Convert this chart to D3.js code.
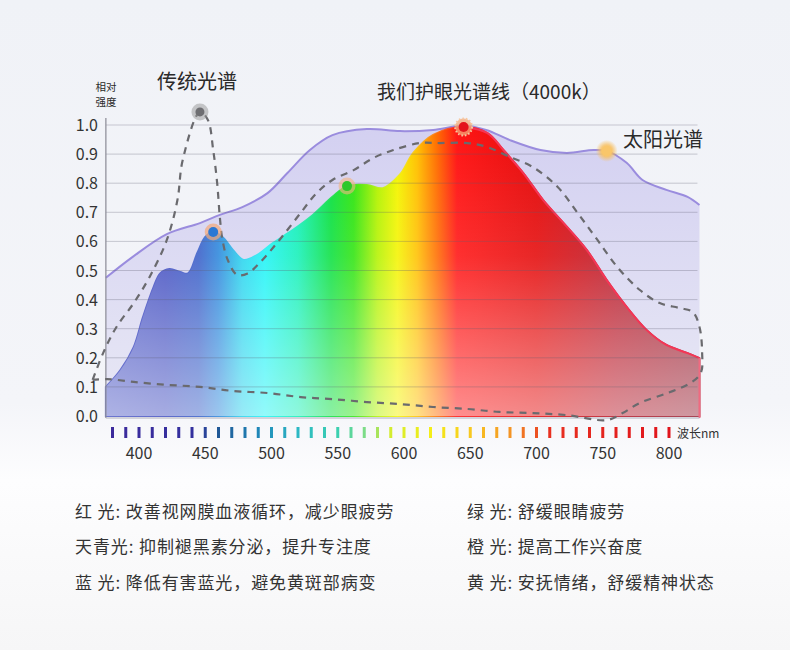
<!DOCTYPE html>
<html>
<head>
<meta charset="utf-8">
<script src="https://cdn.jsdelivr.net/npm/d3@7"></script>
<style>
  body { margin: 0; background: #f5f6f9; }
  svg { display: block; }
</style>
</head>
<body>
<svg id="chart" width="790" height="650"></svg>
<script>
// sunlight spectrum
const sunNm  = [375, 395, 421, 446, 461, 478, 497, 512, 529, 546, 572, 597, 622, 644, 662, 680, 703, 723, 743, 753, 768, 780, 798, 814, 823];
const sunVal = [0.475, 0.546, 0.625, 0.663, 0.691, 0.718, 0.766, 0.835, 0.914, 0.965, 0.986, 0.979, 0.983, 0.997, 0.983, 0.948, 0.914, 0.904, 0.914, 0.911, 0.870, 0.811, 0.777, 0.753, 0.725];

// eye-care LED spectrum (4000k)
const eyeNm  = [375, 386, 396, 403, 411, 416, 423, 431, 437, 444, 450, 456, 463, 471, 479, 489, 501, 516, 531, 546, 557, 572, 584, 597, 607, 622, 645, 663, 675, 690, 705, 723, 738, 753, 768, 783, 798, 814, 823];
const eyeVal = [0.10, 0.158, 0.237, 0.34, 0.443, 0.49, 0.505, 0.495, 0.49, 0.56, 0.615, 0.632, 0.615, 0.57, 0.536, 0.553, 0.594, 0.639, 0.69, 0.753, 0.79, 0.794, 0.783, 0.83, 0.904, 0.966, 0.993, 0.972, 0.914, 0.835, 0.742, 0.65, 0.57, 0.467, 0.375, 0.296, 0.244, 0.216, 0.199];

// traditional spectrum, drawn as a loop (upper edge then back along the bottom)
const tradNm  = [365, 373, 383, 396, 408, 421, 429, 433, 446, 452, 456, 459, 461, 463, 467, 474, 482, 491, 506, 522, 534, 546, 562, 577, 592, 612, 627, 648, 663, 680, 697, 716, 731, 746, 761, 778, 793, 808, 818, 823, 825, 824, 816, 799, 778, 765, 753, 723, 697, 672, 648, 622, 597, 572, 546, 522, 497, 471, 446, 421, 396, 376, 365];
const tradVal = [0.124, 0.217, 0.306, 0.388, 0.478, 0.605, 0.742, 0.88, 1.045, 1.017, 0.914, 0.80, 0.684, 0.605, 0.536, 0.485, 0.49, 0.526, 0.605, 0.698, 0.766, 0.811, 0.845, 0.887, 0.914, 0.938, 0.938, 0.938, 0.924, 0.89, 0.856, 0.787, 0.698, 0.605, 0.512, 0.433, 0.388, 0.371, 0.357, 0.306, 0.217, 0.148, 0.113, 0.079, 0.045, 0.010, -0.014, 0.003, 0.010, 0.014, 0.024, 0.031, 0.041, 0.048, 0.058, 0.065, 0.079, 0.086, 0.10, 0.107, 0.117, 0.127, 0.124];

// highlighted points
const markers = [
  { nm: 446, v: 1.045, kind: 'trad' },
  { nm: 456, v: 0.632, kind: 'blue' },
  { nm: 557, v: 0.79,  kind: 'green' },
  { nm: 645, v: 0.993, kind: 'red' },
  { nm: 753, v: 0.911, kind: 'sun' }
];

const yTicks = [0, 0.1, 0.2, 0.3, 0.4, 0.5, 0.6, 0.7, 0.8, 0.9, 1.0];
const xTicks = [400, 450, 500, 550, 600, 650, 700, 750, 800];
const nmTicks = d3.range(380, 801, 10);

const legendLeft  = ['红 光: 改善视网膜血液循环，减少眼疲劳', '天青光: 抑制褪黑素分泌，提升专注度', '蓝 光: 降低有害蓝光，避免黄斑部病变'];
const legendRight = ['绿 光: 舒缓眼睛疲劳', '橙 光: 提高工作兴奋度', '黄 光: 安抚情绪，舒缓精神状态'];

const FONT = '"Noto Sans CJK SC", "Noto Sans", sans-serif';

const svg = d3.select('#chart');
const x = d3.scaleLinear().domain([400, 800]).range([139, 669]);
const y = d3.scaleLinear().domain([0, 1]).range([416, 125]);
const left = x(375), right = x(823);

const defs = svg.append('defs');

// page background
const bg = defs.append('linearGradient').attr('id', 'bg').attr('x1', 0).attr('y1', 0).attr('x2', 0).attr('y2', 1);
bg.append('stop').attr('offset', '0').attr('stop-color', '#f0f2f7');
bg.append('stop').attr('offset', '0.62').attr('stop-color', '#f4f5f9');
bg.append('stop').attr('offset', '0.74').attr('stop-color', '#fdfdfe');
bg.append('stop').attr('offset', '1').attr('stop-color', '#f6f6f7');
svg.append('rect').attr('width', 790).attr('height', 650).attr('fill', 'url(#bg)');

// sun fill
const sunGrad = defs.append('linearGradient').attr('id', 'sunGrad')
  .attr('gradientUnits', 'userSpaceOnUse').attr('x1', 0).attr('x2', 0).attr('y1', y(1)).attr('y2', y(0));
sunGrad.append('stop').attr('offset', '0').attr('stop-color', '#d3d0f1');
sunGrad.append('stop').attr('offset', '1').attr('stop-color', '#e8e8f5');

// rainbow for the eye-care curve
const spectrumStops = [
  [375, '#5660c8'], [420, '#4652c2'], [445, '#3a5fc8'], [460, '#2e88dc'], [478, '#28d4ee'],
  [495, '#1ef4f6'], [520, '#14f0b8'], [545, '#0ce040'], [562, '#30e410'], [580, '#b4f200'],
  [595, '#f4f400'], [610, '#ffc000'], [625, '#ff6c00'], [640, '#ff1414'], [700, '#e40a0a'],
  [760, '#b81a2a'], [823, '#98283a']
];
const rainbow = defs.append('linearGradient').attr('id', 'rainbow')
  .attr('gradientUnits', 'userSpaceOnUse').attr('x1', left).attr('x2', right).attr('y1', 0).attr('y2', 0);
rainbow.selectAll('stop').data(spectrumStops).enter().append('stop')
  .attr('offset', d => (d[0] - 375) / (823 - 375))
  .attr('stop-color', d => d[1]);

const fade = defs.append('linearGradient').attr('id', 'fade')
  .attr('gradientUnits', 'userSpaceOnUse').attr('x1', 0).attr('x2', 0).attr('y1', y(1)).attr('y2', y(0));
fade.append('stop').attr('offset', '0').attr('stop-color', '#fff').attr('stop-opacity', 0);
fade.append('stop').attr('offset', '0.45').attr('stop-color', '#fff').attr('stop-opacity', 0.12);
fade.append('stop').attr('offset', '1').attr('stop-color', '#fff').attr('stop-opacity', 0.52);

const glow = defs.append('radialGradient').attr('id', 'glow');
glow.append('stop').attr('offset', '0').attr('stop-color', '#ffd070').attr('stop-opacity', 1);
glow.append('stop').attr('offset', '0.55').attr('stop-color', '#f8c060').attr('stop-opacity', 0.8);
glow.append('stop').attr('offset', '1').attr('stop-color', '#f8c060').attr('stop-opacity', 0);

const curve = d3.curveCatmullRom.alpha(0.5);
const zip = (a, b) => a.map((d, i) => [d, b[i]]);

const area = d3.area().x(d => x(d[0])).y0(y(0)).y1(d => y(d[1])).curve(curve);
const line = d3.line().x(d => x(d[0])).y(d => y(d[1])).curve(curve);

// sun spectrum
svg.append('path').attr('d', area(zip(sunNm, sunVal))).attr('fill', 'url(#sunGrad)');
svg.append('path').attr('d', line(zip(sunNm, sunVal)))
  .attr('fill', 'none').attr('stroke', '#9a8cde').attr('stroke-width', 2);

// eye-care spectrum
const eyeData = zip(eyeNm, eyeVal);
svg.append('path').attr('d', area(eyeData)).attr('fill', 'url(#rainbow)')
  .attr('stroke', 'url(#rainbow)').attr('stroke-width', 2).attr('stroke-opacity', 0.85);
svg.append('path').attr('d', area(eyeData)).attr('fill', 'url(#fade)');
svg.append('path').attr('d', line(eyeData.filter(d => d[0] >= 640)))
  .attr('fill', 'none').attr('stroke', '#f43656').attr('stroke-width', 2);
svg.append('line').attr('x1', right).attr('x2', right).attr('y1', y(eyeVal[eyeVal.length - 1])).attr('y2', y(0) + 2)
  .attr('stroke', '#f06a80').attr('stroke-width', 2);

// grid
svg.append('g').selectAll('line').data(yTicks.slice(1)).enter().append('line')
  .attr('x1', left).attr('x2', right - 2)
  .attr('y1', d => y(d)).attr('y2', d => y(d))
  .attr('stroke', '#5c5c70').attr('stroke-opacity', 0.3).attr('stroke-width', 1);

// axes
svg.append('line').attr('x1', left).attr('x2', left).attr('y1', 118).attr('y2', y(0) + 2)
  .attr('stroke', '#8a8a96').attr('stroke-width', 1.2);
svg.append('line').attr('x1', left).attr('x2', right).attr('y1', y(0) + 2).attr('y2', y(0) + 2)
  .attr('stroke', '#b0b0bc').attr('stroke-width', 1);

svg.append('g').selectAll('text').data(yTicks).enter().append('text')
  .attr('x', 98).attr('y', d => y(d) + 6)
  .attr('text-anchor', 'end').attr('font-family', FONT).attr('font-size', 16).attr('fill', '#333')
  .text(d => d.toFixed(1));

svg.append('g').selectAll('text').data(xTicks).enter().append('text')
  .attr('x', d => x(d)).attr('y', 459)
  .attr('text-anchor', 'middle').attr('font-family', FONT).attr('font-size', 16).attr('fill', '#333')
  .text(d => d);

const tickColor = d3.scaleLinear()
  .domain([380, 440, 460, 490, 520, 550, 570, 590, 620, 650, 680, 710, 800])
  .range(['#3c2a9c', '#33309e', '#205896', '#1f86b8', '#2cb8c4', '#3cd0b0', '#7cdc88', '#d4ec30', '#f4ee18', '#f8c820', '#f49424', '#e83020', '#e0141c']);
svg.append('g').selectAll('rect').data(nmTicks).enter().append('rect')
  .attr('x', d => x(d) - 1.5).attr('y', 427).attr('width', 3).attr('height', 11)
  .attr('fill', d => tickColor(d));

svg.append('text').attr('x', 677).attr('y', 438)
  .attr('font-family', FONT).attr('font-size', 12).attr('fill', '#333').text('波长nm');

// traditional spectrum
svg.append('path').attr('d', line(zip(tradNm, tradVal)))
  .attr('fill', 'none').attr('stroke', '#6a6a6e').attr('stroke-width', 2.2)
  .attr('stroke-dasharray', '7,6');

// markers
const markerStyle = {
  trad:  { halo: 'rgba(150,150,150,0.5)', core: '#6e6e72', r: 4.5 },
  blue:  { halo: 'rgba(244,168,120,0.7)', core: '#2a78d4', r: 5 },
  green: { halo: 'rgba(244,180,130,0.6)', core: '#2ec82a', r: 5 },
  red:   { halo: 'rgba(244,168,120,0.75)', core: '#e4141c', r: 5 }
};
const mg = svg.append('g');
markers.forEach(m => {
  const cx = x(m.nm), cy = y(m.v);
  if (m.kind === 'sun') {
    mg.append('circle').attr('cx', cx).attr('cy', cy).attr('r', 11).attr('fill', 'url(#glow)');
    mg.append('circle').attr('cx', cx).attr('cy', cy).attr('r', 5.5).attr('fill', '#f9c66a');
    return;
  }
  const s = markerStyle[m.kind];
  mg.append('circle').attr('cx', cx).attr('cy', cy).attr('r', 8.5).attr('fill', s.halo);
  if (m.kind === 'red') {
    mg.append('circle').attr('cx', cx).attr('cy', cy).attr('r', 8.5).attr('fill', 'none')
      .attr('stroke', '#f6c8a0').attr('stroke-width', 2).attr('stroke-dasharray', '1.5,2');
  }
  mg.append('circle').attr('cx', cx).attr('cy', cy).attr('r', s.r).attr('fill', s.core);
});

// labels
const txt = (t, tx, ty, size, anchor) => svg.append('text')
  .attr('x', tx).attr('y', ty).attr('font-family', FONT).attr('font-size', size)
  .attr('fill', '#2a2a2a').attr('text-anchor', anchor || 'start').text(t);

txt('相对', 106, 91, 10.5, 'middle');
txt('强度', 106, 106, 10.5, 'middle');
txt('传统光谱', 197, 89, 20, 'middle');
txt('我们护眼光谱线（4000k）', 377, 99, 19);
txt('太阳光谱', 623, 147, 20);

const rows = [518, 553, 589];
legendLeft.forEach((t, i) => txt(t, 75, rows[i], 17).attr('fill', '#333').attr('letter-spacing', 0.9));
legendRight.forEach((t, i) => txt(t, 467, rows[i], 17).attr('fill', '#333').attr('letter-spacing', 0.9));
</script>
</body>
</html>
